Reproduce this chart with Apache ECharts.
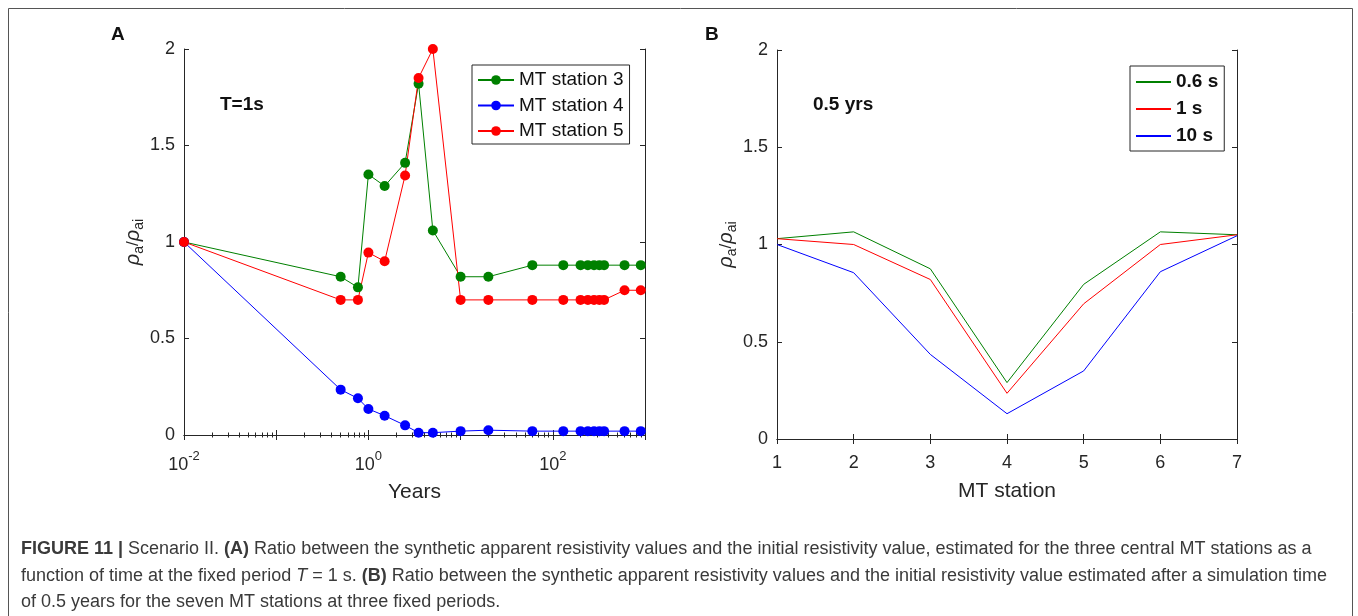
<!DOCTYPE html>
<html>
<head>
<meta charset="utf-8">
<script src="https://cdn.jsdelivr.net/npm/echarts@6/dist/echarts.min.js"></script>
<style>
  html, body { margin: 0; padding: 0; background: #ffffff; }
  #chart { width: 1358px; height: 616px; }
</style>
</head>
<body>
<div id="chart"></div>
<script>
// ---- Panel A: apparent-resistivity ratio vs. simulation time, T = 1 s ----
const years = [0.01, 0.5, 0.77, 1, 1.5, 2.5, 3.5, 5, 10, 20, 60, 130, 200, 240, 280, 320, 360, 600, 900];
const station3 = [1.0, 0.82, 0.765, 1.35, 1.29, 1.41, 1.82, 1.06, 0.82, 0.82, 0.88, 0.88, 0.88, 0.88, 0.88, 0.88, 0.88, 0.88, 0.88];
const station4 = [1.0, 0.235, 0.19, 0.135, 0.1, 0.05, 0.012, 0.012, 0.02, 0.025, 0.02, 0.02, 0.02, 0.02, 0.02, 0.02, 0.02, 0.02, 0.02];
const station5 = [1.0, 0.70, 0.70, 0.945, 0.90, 1.345, 1.85, 2.0, 0.70, 0.70, 0.70, 0.70, 0.70, 0.70, 0.70, 0.70, 0.70, 0.75, 0.75];
const yearTickExponents = [-2, 0, 2];

// ---- Panel B: ratio along the profile after 0.5 years ----
const stations = [1, 2, 3, 4, 5, 6, 7];
const period06 = [1.03, 1.065, 0.875, 0.29, 0.795, 1.065, 1.05];
const period1 = [1.03, 1.0, 0.82, 0.235, 0.695, 1.0, 1.05];
const period10 = [1.0, 0.855, 0.435, 0.13, 0.35, 0.86, 1.045];

const FONT = '"Liberation Sans", Arial, Helvetica, sans-serif';
const AX = '#262626';
const GREEN = '#008000', BLUE = '#0000ff', RED = '#ff0000';

const tickLabelStyle = { fontFamily: FONT, fontSize: 18, color: AX };
const axisLine = { show: true, lineStyle: { color: AX, width: 1 } };
const axisTick = { show: true, inside: true, length: 5, lineStyle: { color: AX, width: 1 } };

const ratioName = '{r|ρ}{s|a}{d|/}{r|ρ}{s|ai}';
const ratioRich = {
  r: { fontFamily: FONT, fontSize: 20, fontStyle: 'italic', color: AX, lineHeight: 26 },
  s: { fontFamily: FONT, fontSize: 14, color: AX, lineHeight: 14, verticalAlign: 'bottom' },
  d: { fontFamily: FONT, fontSize: 17, color: AX, lineHeight: 26 }
};

function powerLabel(v) {
  const e = Math.round(Math.log10(v));
  if (yearTickExponents.indexOf(e) < 0) return '';
  return '{b|10}{e|' + e + '}';
}

function ratioAxis(gridIndex, position, withLabels) {
  return {
    type: 'value', gridIndex: gridIndex, position: position,
    min: 0, max: 2, interval: 0.5,
    axisLine: axisLine, axisTick: axisTick, splitLine: { show: false },
    axisLabel: withLabels ? Object.assign({ margin: 9 }, tickLabelStyle) : { show: false },
    name: withLabels ? ratioName : '',
    nameLocation: 'middle', nameRotate: 90, nameGap: 24,
    nameTextStyle: { rich: ratioRich }
  };
}

function yearAxis(position, withLabels) {
  return {
    type: 'log', logBase: 10, gridIndex: 0, position: position,
    min: 0.01, max: 1000,
    axisLine: axisLine, axisTick: axisTick, splitLine: { show: false },
    minorTick: { show: true, splitNumber: 9, length: 2.5, lineStyle: { color: AX, width: 1 } },
    minorSplitLine: { show: false },
    axisLabel: withLabels ? {
      margin: 15, formatter: powerLabel,
      rich: {
        b: { fontFamily: FONT, fontSize: 18, color: AX, lineHeight: 24, verticalAlign: 'bottom' },
        e: { fontFamily: FONT, fontSize: 13, color: AX, lineHeight: 12, verticalAlign: 'top' }
      }
    } : { show: false },
    name: withLabels ? 'Years' : '',
    nameLocation: 'middle', nameGap: 47,
    nameTextStyle: { fontFamily: FONT, fontSize: 21, color: AX }
  };
}

function stationAxis(position, withLabels) {
  return {
    type: 'value', gridIndex: 1, position: position,
    min: 1, max: 7, interval: 1,
    axisLine: axisLine, axisTick: axisTick, splitLine: { show: false },
    axisLabel: withLabels ? Object.assign({ margin: 15 }, tickLabelStyle) : { show: false },
    name: withLabels ? 'MT station' : '',
    nameLocation: 'middle', nameGap: 42,
    nameTextStyle: { fontFamily: FONT, fontSize: 21, color: AX }
  };
}

function timeSeries(name, values, color) {
  return {
    name: name, type: 'line', xAxisIndex: 0, yAxisIndex: 0,
    data: years.map((t, i) => [t, values[i]]),
    symbol: 'circle', symbolSize: 10, showSymbol: true,
    itemStyle: { color: color }, lineStyle: { color: color, width: 1 },
    emphasis: { disabled: true }, clip: false
  };
}

function profileSeries(name, values, color) {
  return {
    name: name, type: 'line', xAxisIndex: 2, yAxisIndex: 2,
    data: stations.map((s, i) => [s, values[i]]),
    symbol: 'none',
    itemStyle: { color: color }, lineStyle: { color: color, width: 1 },
    emphasis: { disabled: true }
  };
}

function label(x, y, text, size, weight) {
  return {
    type: 'text', x: x, y: y, silent: true,
    style: { text: text, fontFamily: FONT, fontSize: size, fontWeight: weight || 'normal',
             fill: '#111', align: 'left', verticalAlign: 'middle' }
  };
}

// Caption (three lines, bold figure number and panel letters)
const capBase = { fontFamily: FONT, fontSize: 18, color: '#3a3a3a' };
const capRich = {
  n: capBase,
  b: Object.assign({}, capBase, { fontWeight: 'bold', color: '#1a1a1a' }),
  i: Object.assign({}, capBase, { fontStyle: 'italic' })
};
const captionLines = [
  '{b|FIGURE 11 |}{n| Scenario II. }{b|(A)}{n| Ratio between the synthetic apparent resistivity values and the initial resistivity value, estimated for the three central MT stations as a}',
  '{n|function of time at the fixed period }{i|T}{n| = 1 s. }{b|(B)}{n| Ratio between the synthetic apparent resistivity values and the initial resistivity value estimated after a simulation time}',
  '{n|of 0.5 years for the seven MT stations at three fixed periods.}'
];
const captionY = [549, 576, 602];

const chart = echarts.init(document.getElementById('chart'), null, { renderer: 'canvas' });
chart.setOption({
  backgroundColor: '#ffffff',
  animation: false,
  grid: [
    { left: 184, top: 49, width: 461, height: 386 },
    { left: 777, top: 50, width: 460, height: 389 }
  ],
  xAxis: [
    yearAxis('bottom', true),
    yearAxis('top', false),
    stationAxis('bottom', true),
    stationAxis('top', false)
  ],
  yAxis: [
    ratioAxis(0, 'left', true),
    ratioAxis(0, 'right', false),
    ratioAxis(1, 'left', true),
    ratioAxis(1, 'right', false)
  ],
  legend: [
    {
      data: ['MT station 3', 'MT station 4', 'MT station 5'],
      orient: 'vertical', left: 472, top: 65,
      padding: [5, 6, 3, 5], itemWidth: 36, itemHeight: 12, itemGap: 5.5,
      borderColor: AX, borderWidth: 1, backgroundColor: '#ffffff', borderRadius: 0,
      selectedMode: false,
      textStyle: { fontFamily: FONT, fontSize: 19, color: '#111', lineHeight: 20 }
    },
    {
      data: ['0.6 s', '1 s', '10 s'],
      orient: 'vertical', left: 1130, top: 66,
      padding: [6, 6, 5, 5], itemWidth: 35, itemHeight: 12, itemGap: 7,
      borderColor: AX, borderWidth: 1, backgroundColor: '#ffffff', borderRadius: 0,
      selectedMode: false,
      itemStyle: { opacity: 0 },
      textStyle: { fontFamily: FONT, fontSize: 19, fontWeight: 'bold', color: '#111', lineHeight: 20 }
    }
  ],
  series: [
    timeSeries('MT station 3', station3, GREEN),
    timeSeries('MT station 4', station4, BLUE),
    timeSeries('MT station 5', station5, RED),
    profileSeries('0.6 s', period06, GREEN),
    profileSeries('1 s', period1, RED),
    profileSeries('10 s', period10, BLUE)
  ],
  graphic: [
    {
      type: 'rect', silent: true,
      shape: { x: 8.5, y: 8.5, width: 1344, height: 640 },
      style: { fill: 'none', stroke: '#555555', lineWidth: 1 }
    },
    label(111, 35, 'A', 19, 'bold'),
    label(705, 35, 'B', 19, 'bold'),
    label(220, 105, 'T=1s', 19, 'bold'),
    label(813, 105, '0.5 yrs', 19, 'bold')
  ].concat(captionLines.map((t, i) => ({
    type: 'text', x: 21, y: captionY[i], silent: true,
    style: { text: t, rich: capRich, fontFamily: FONT, fontSize: 18, fill: '#3a3a3a',
             align: 'left', verticalAlign: 'middle' }
  })))
});
</script>
</body>
</html>
